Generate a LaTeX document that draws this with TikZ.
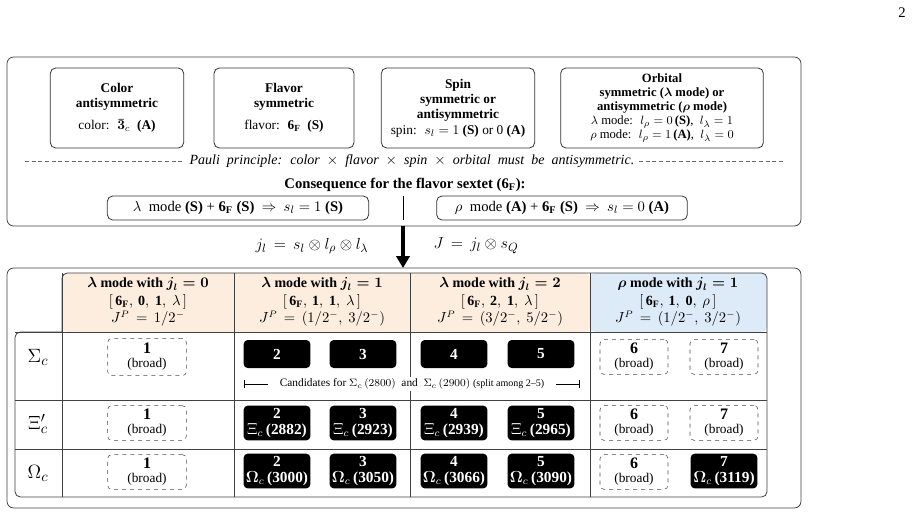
\documentclass[tikz,border=0pt]{standalone}
\usepackage{amsmath,amssymb}
\usepackage{fontspec}
\setmainfont{Liberation Serif}
\usetikzlibrary{arrows.meta,positioning,calc}
\definecolor{peach}{RGB}{252,237,222}
\definecolor{skyb}{RGB}{221,235,248}
\newcommand{\sixF}{\mathbf{6}_{\mathbf{F}}}
\tikzstyle{panel} = [draw=black!75, rounded corners=5pt, line width=0.6pt]
\tikzstyle{infobox} = [draw=black!80, rounded corners=4pt, line width=0.6pt, align=center, minimum height=60pt, font=\fontsize{10}{11.5}\selectfont]
\tikzstyle{rule} = [draw=black!80, rounded corners=4pt, line width=0.6pt, minimum height=18pt, font=\fontsize{11}{13}\selectfont]
\tikzstyle{cand} = [fill=black, text=white, rounded corners=3pt, align=center, minimum width=50pt, minimum height=26pt, inner sep=1pt, font=\fontsize{11.5}{11.5}\selectfont\bfseries]
\tikzstyle{broad} = [draw=black!70, dashed, rounded corners=3pt, align=center, minimum width=51pt, minimum height=26pt, inner sep=1pt, font=\fontsize{10}{10.5}\selectfont]
\tikzstyle{head} = [align=center, font=\fontsize{10.5}{13}\selectfont]
\begin{document}
\begin{tikzpicture}[x=0.75pt,y=-0.75pt]
\useasboundingbox (0,0) rectangle (919,514);
\node (page) at (902,13) {\fontsize{11}{12}\selectfont 2};
% top panel
\draw[panel] (7,57) rectangle (801,226);
\node[infobox, minimum width=100pt] (color) at (117,108) {\textbf{Color}\\\textbf{antisymmetric}\\[5pt] color: \ $\boldsymbol{\bar{3}}_c$ \ \textbf{(A)}};
\node[infobox, minimum width=105pt] (flavor) at (284,108) {\textbf{Flavor}\\\textbf{symmetric}\\[5pt] flavor: \ $\sixF$ \ \textbf{(S)}};
\node[infobox, minimum width=115pt] (spin) at (458,108) {\textbf{Spin}\\\textbf{symmetric or}\\\textbf{antisymmetric}\\ spin: \ $s_l=1$ \textbf{(S)} or 0 \textbf{(A)}};
\node[infobox, minimum width=152pt, font=\fontsize{9.5}{10.5}\selectfont] (orbital) at (662,108) {\textbf{Orbital}\\\textbf{symmetric ($\boldsymbol\lambda$ mode) or}\\\textbf{antisymmetric ($\boldsymbol\rho$ mode)}\\ $\lambda$ mode: \ $l_\rho=0\,$\textbf{(S)}, \ $l_\lambda=1$\\ $\rho$ mode: \ $l_\rho=1\,$\textbf{(A)}, \ $l_\lambda=0$};
\node (pauli) at (412,161) {\fontsize{10.5}{12}\selectfont\itshape Pauli \ principle: \ color \ $\times$ \ flavor \ $\times$ \ spin \ $\times$ \ orbital \ must \ be \ antisymmetric.};
\coordinate (dl) at (25,161);
\coordinate (dr) at (783,161);
\draw[densely dashed, black!60, line width=0.3pt] (dl) -- (pauli.west);
\draw[densely dashed, black!60, line width=0.3pt] (pauli.east) -- (dr);
\node[font=\fontsize{11}{13}\selectfont\bfseries] (conseq) at (405,185) {Consequence for the flavor sextet ($\sixF$):};
\node[rule, minimum width=196pt] (lam) at (238,208) {$\lambda$ \ mode \textbf{(S)} + $\sixF$ \textbf{(S)} \ $\Rightarrow$ \ $s_l=1$ \textbf{(S)}};
\node[rule, minimum width=188pt] (rho) at (562,208) {$\rho$ \ mode \textbf{(A)} + $\sixF$ \textbf{(S)} \ $\Rightarrow$ \ $s_l=0$ \textbf{(A)}};
\coordinate (bt) at (403,196);
\coordinate (bb) at (403,220);
\draw[line width=0.6pt] (bt) -- (bb);
% arrow between panels
\coordinate (at) at (403,226);
\coordinate (ab) at (403,268);
\draw[line width=2.4pt, -{Triangle[length=9pt,width=10pt]}] (at) -- (ab);
\node (jl) at (312,246) {\fontsize{13}{15}\selectfont $j_l\,=\,s_l\otimes l_\rho\otimes l_\lambda$};
\node (jJ) at (476,246) {\fontsize{13}{15}\selectfont $J\,=\,j_l\otimes s_Q$};
% bottom panel
\draw[panel] (7,268) rectangle (801,508);
\fill[peach, rounded corners=4pt] (62,273) rectangle (590,332);
\fill[skyb, rounded corners=4pt] (590,273) rectangle (767,332);
\draw[draw=black!75, rounded corners=4pt, line width=0.6pt] (62,332) -- (62,273) -- (767,273) -- (767,497) -- (15,497) -- (15,332) -- (62,332);
\draw[black!75, line width=0.6pt] (15,332) -- (767,332);
\draw[black!75, line width=0.6pt] (15,400) -- (767,400);
\draw[black!75, line width=0.6pt] (15,449) -- (767,449);
\foreach \x in {62,234,410,590} \draw[black!75, line width=0.6pt] (\x,273) -- (\x,497);
\node[head] (h1) at (148,302) {\textbf{$\boldsymbol\lambda$ mode with $\boldsymbol{j_l=0}$}\\ $[\,\sixF,\,\mathbf{0},\ \mathbf{1},\ \lambda\,]$\\ $J^P\,=\,1/2^-$};
\node[head] (h2) at (322,302) {\textbf{$\boldsymbol\lambda$ mode with $\boldsymbol{j_l=1}$}\\ $[\,\sixF,\,\mathbf{1},\ \mathbf{1},\ \lambda\,]$\\ $J^P\,=\,(1/2^-,\ 3/2^-)$};
\node[head] (h3) at (500,302) {\textbf{$\boldsymbol\lambda$ mode with $\boldsymbol{j_l=2}$}\\ $[\,\sixF,\,\mathbf{2},\ \mathbf{1},\ \lambda\,]$\\ $J^P\,=\,(3/2^-,\ 5/2^-)$};
\node[head] (h4) at (678,302) {\textbf{$\boldsymbol\rho$ mode with $\boldsymbol{j_l=1}$}\\ $[\,\sixF,\,\mathbf{1},\ \mathbf{0},\ \rho\,]$\\ $J^P\,=\,(1/2^-,\ 3/2^-)$};
\node (rS) at (38,357) {\fontsize{15}{17}\selectfont $\Sigma_c$};
\node (rX) at (38,424) {\fontsize{15}{17}\selectfont $\Xi'_c$};
\node (rO) at (38,473) {\fontsize{15}{17}\selectfont $\Omega_c$};
% Sigma_c row
\node[broad, minimum width=59pt, minimum height=28pt] (s1) at (147,357) {\textbf{\large 1}\\(broad)};
\node[cand, minimum height=21pt] (s2) at (277,354) {2};
\node[cand, minimum height=21pt] (s3) at (363,354) {3};
\node[cand, minimum height=21pt] (s4) at (454,354) {4};
\node[cand, minimum height=21pt] (s5) at (541,354) {5};
\node[broad] (s6) at (634,357) {\textbf{\large 6}\\(broad)};
\node[broad] (s7) at (724,357) {\textbf{\large 7}\\(broad)};
\node[fill=white, inner sep=1pt] (cands) at (412,384) {\fontsize{8.5}{9}\selectfont Candidates for $\Sigma_c\,(2800)$ \ and \ $\Sigma_c\,(2900)$ {\fontsize{7.5}{8}\selectfont(split among 2--5)}};
\coordinate (cl) at (244,384);
\coordinate (cr) at (580,384);
\draw[line width=0.4pt, {Bar[width=6pt]}-] (cl) -- ([xshift=-8pt]cands.west);
\draw[line width=0.4pt, -{Bar[width=6pt]}] ([xshift=8pt]cands.east) -- (cr);
% Xi'_c row
\node[broad, minimum width=59pt] (x1) at (147,423) {\textbf{\large 1}\\(broad)};
\node[cand] (x2) at (277,423) {2\\$\Xi_c\,$(2882)};
\node[cand] (x3) at (363,423) {3\\$\Xi_c\,$(2923)};
\node[cand] (x4) at (454,423) {4\\$\Xi_c\,$(2939)};
\node[cand] (x5) at (541,423) {5\\$\Xi_c\,$(2965)};
\node[broad] (x6) at (634,423) {\textbf{\large 6}\\(broad)};
\node[broad] (x7) at (724,423) {\textbf{\large 7}\\(broad)};
% Omega_c row
\node[broad, minimum width=59pt] (o1) at (147,472) {\textbf{\large 1}\\(broad)};
\node[cand] (o2) at (277,471) {2\\$\boldsymbol\Omega_c\,$(3000)};
\node[cand] (o3) at (363,471) {3\\$\boldsymbol\Omega_c\,$(3050)};
\node[cand] (o4) at (454,471) {4\\$\boldsymbol\Omega_c\,$(3066)};
\node[cand] (o5) at (541,471) {5\\$\boldsymbol\Omega_c\,$(3090)};
\node[broad] (o6) at (634,472) {\textbf{\large 6}\\(broad)};
\node[cand] (o7) at (724,471) {7\\$\boldsymbol\Omega_c\,$(3119)};
\end{tikzpicture}
\end{document}
